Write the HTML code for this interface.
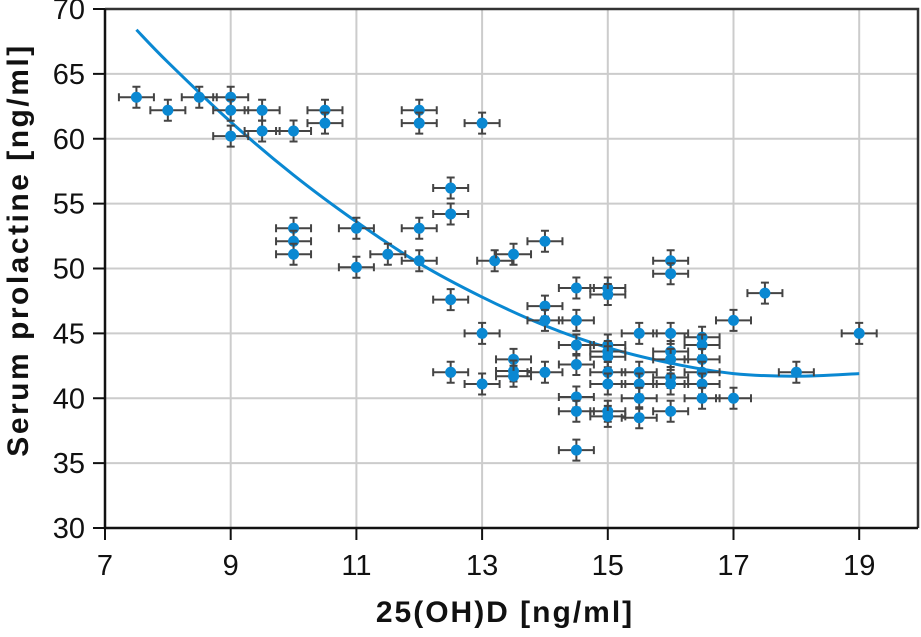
<!DOCTYPE html>
<html><head><meta charset="utf-8">
<style>
html,body{margin:0;padding:0;background:#fff;}
svg{display:block;font-family:"Liberation Sans",sans-serif;}
</style></head>
<body>
<svg id="chart" width="921" height="637" viewBox="0 0 921 637" xmlns="http://www.w3.org/2000/svg">
<g id="grid"></g>
<g id="fit"></g>
<g id="pts"></g>
<g id="axes"></g>
<text x="505" y="622" text-anchor="middle" font-size="30" font-weight="bold" letter-spacing="2" fill="#111">25(OH)D [ng/ml]</text>
<text transform="translate(28,250) rotate(-90)" text-anchor="middle" font-size="30" font-weight="bold" letter-spacing="2.5" fill="#111">Serum prolactine [ng/ml]</text>
</svg>
<script>
const xTicks = [7, 9, 11, 13, 15, 17, 19];
const yTicks = [30, 35, 40, 45, 50, 55, 60, 65, 70];
const xVals = [7.5,8,8.5,9,9,9,9.5,9.5,10,10.5,10.5,12,12,13,
 12.5,12.5,10,10,10,11,11,11.5,12,12,13.2,13.5,14,
 12.5,13,12.5,13,
 14,14,14.5,14.5,15,15,16,16,17.5,17,19,18,
 13.5,13.5,13.5,14,14.5,14.5,15,15,15,15.5,16,16.5,16.5,16,16,16.5,15,15.5,16,16.5,16,15.5,15,16.5,14.5,15.5,16.5,17,14.5,15,15,15.5,16,14.5];
const yVals = [63.2,62.2,63.2,63.2,62.2,60.2,62.2,60.6,60.6,62.2,61.2,62.2,61.2,61.2,
 56.2,54.2,53.1,52.1,51.1,53.1,50.1,51.1,53.1,50.6,50.6,51.1,52.1,
 47.6,45,42,41.1,
 47.1,46,48.5,46,48.5,48,50.6,49.6,48.1,46,45,42,
 43,42.1,41.7,42,44.1,42.6,44.1,43.6,43.2,45,45,44.7,44.1,43.6,43,43,42,42,41.6,42,41.1,41.1,41.1,41.1,40.1,40,40,40,39,39,38.6,38.5,39,36];
const fitX = [7.5,8,9,10,11,12,13,14,15,16,17,18,19];
const fitY = [68.4,65.9,61.3,57.2,53.6,50.4,47.8,45.6,43.9,42.7,41.9,41.7,41.9];

const X0=105, X1=918, Y0=528, Y1=9;
const xs = v => X0 + (v-7)*62.85;
const ys = v => Y0 - (v-30)*12.975;
const NS='http://www.w3.org/2000/svg';
function mk(tag, parent, attrs){const e=document.createElementNS(NS,tag);for(const k in attrs)e.setAttribute(k,attrs[k]);parent.appendChild(e);return e;}
const grid=document.getElementById('grid'), axes=document.getElementById('axes');
xTicks.forEach(t=>{
  const l=mk('line',grid,{x1:xs(t),x2:xs(t),y1:Y1,y2:Y0,stroke:'#cccccc','stroke-width':2});
  
  
  const tk=mk('line',axes,{x1:xs(t),x2:xs(t),y1:Y0,y2:Y0+12,stroke:'#111','stroke-width':2});
  
  
  const tx=mk('text',axes,{x:xs(t),y:Y0+47,'text-anchor':'middle','font-size':29,fill:'#111'});
  tx.textContent=t;
  
  
});
yTicks.forEach(t=>{
  const l=mk('line',grid,{x1:X0,x2:X1,y1:ys(t),y2:ys(t),stroke:'#cccccc','stroke-width':2});
  
  
  const tk=mk('line',axes,{x1:X0-12,x2:X0,y1:ys(t),y2:ys(t),stroke:'#111','stroke-width':2});
  
  
  const tx=mk('text',axes,{x:X0-20,y:ys(t)+10,'text-anchor':'end','font-size':29,fill:'#111'});
  tx.textContent=t;
  
  
});
const fr=mk('path',axes,{d:`M${X0},${Y1} H${X1} V${Y0}`,fill:'none',stroke:'#333','stroke-width':2.5});


const ax=mk('path',axes,{d:`M${X0},${Y1} V${Y0} H${X1}`,fill:'none',stroke:'#111','stroke-width':2.5});



const P=fitX.map((x,i)=>[xs(x),ys(fitY[i])]);
let d=`M${P[0][0]},${P[0][1]}`;
for(let i=0;i<P.length-1;i++){
  const p0=P[Math.max(0,i-1)],p1=P[i],p2=P[i+1],p3=P[Math.min(P.length-1,i+2)];
  d+=` C${p1[0]+(p2[0]-p0[0])/6},${p1[1]+(p2[1]-p0[1])/6} ${p2[0]-(p3[0]-p1[0])/6},${p2[1]-(p3[1]-p1[1])/6} ${p2[0]},${p2[1]}`;
}
const fc=mk('path',document.getElementById('fit'),{d:d,fill:'none',stroke:'#0a88d2','stroke-width':3});



const pts=document.getElementById('pts');
xVals.forEach((x,i)=>{
  const cx=xs(x), cy=ys(yVals[i]);
  const g=mk('g',pts,{});
  
  
  const hw=17.5, vh=10.5, c=4;
  mk('path',g,{d:`M${cx-hw},${cy} H${cx+hw} M${cx-hw},${cy-c} V${cy+c} M${cx+hw},${cy-c} V${cy+c} M${cx},${cy-vh} V${cy+vh} M${cx-c},${cy-vh} H${cx+c} M${cx-c},${cy+vh} H${cx+c}`,stroke:'#444','stroke-width':2,fill:'none'});
  mk('circle',g,{cx:cx,cy:cy,r:5.5,fill:'#0a88d2'});
});
</script>
</body></html>
